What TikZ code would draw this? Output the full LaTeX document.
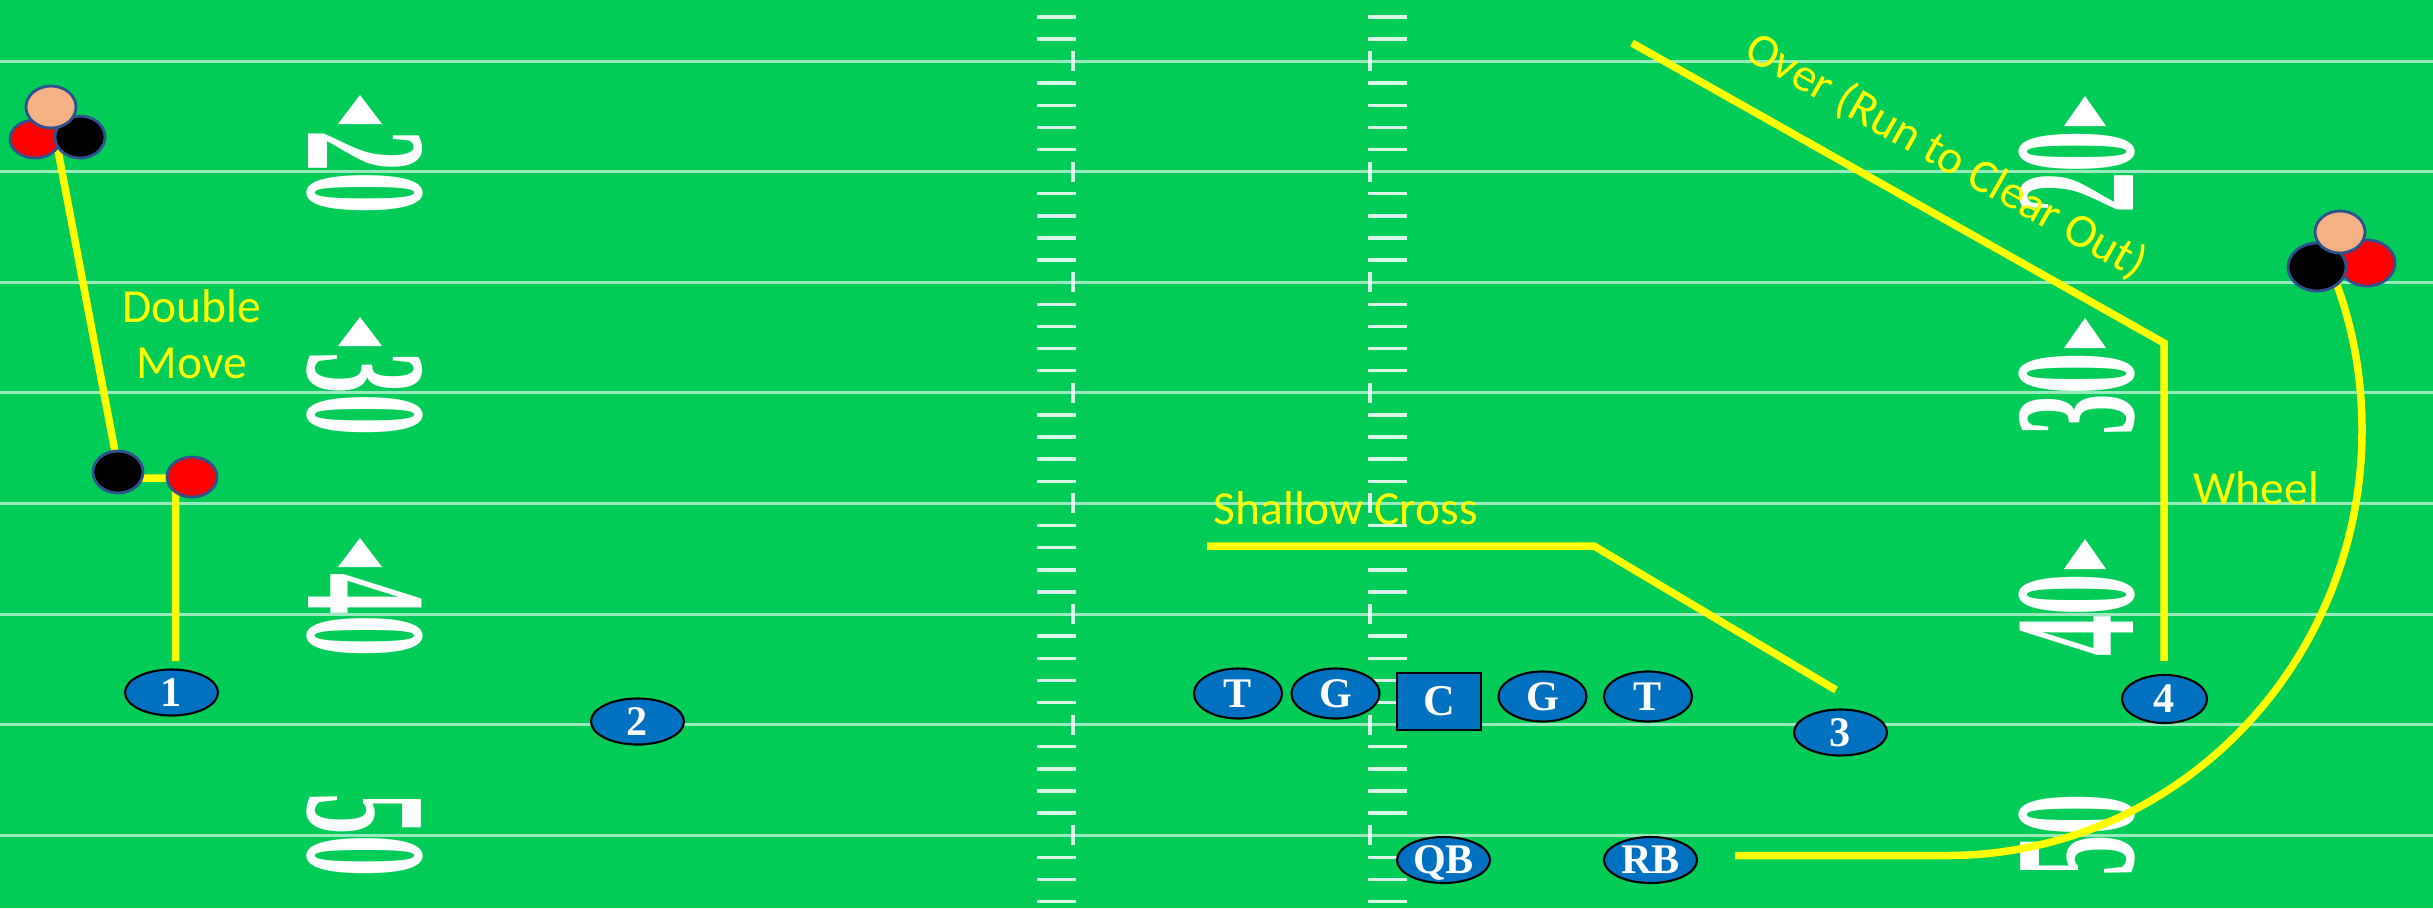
\documentclass[tikz,border=0pt]{standalone}
\usepackage{fontspec}
\setmainfont{Liberation Serif}
\newfontfamily\labelfont{Carlito}
\usetikzlibrary{shapes.geometric}
\pgfdeclarelayer{fieldlayer}
\pgfdeclarelayer{routelayer}
\pgfsetlayers{fieldlayer,routelayer,main}
\definecolor{fieldgreen}{RGB}{2,204,88}
\definecolor{pblue}{RGB}{0,112,192}
\definecolor{trioedge}{RGB}{47,82,143}
\definecolor{peach}{RGB}{244,177,131}
\definecolor{dred}{RGB}{255,0,0}
\definecolor{routey}{RGB}{255,255,0}
\tikzset{
  yardline/.style={draw=white, opacity=0.6, line width=0.03cm},
  hashmark/.style={draw=white, opacity=0.85, line width=0.035cm},
  tickmark/.style={draw=white, opacity=0.85, line width=0.035cm},
  fieldnum/.style={text=white, inner sep=0pt, font=\fontsize{49}{49}\selectfont\bfseries},
  arrowtri/.style={fill=white},
  routeline/.style={draw=routey, line width=0.075cm},
  lbl/.style={text=routey, inner sep=0pt, font=\labelfont\fontsize{13.5}{16}\selectfont},
  player/.style={ellipse, draw=black, line width=0.6pt, fill=pblue, text=white,
    font=\fontsize{12}{12}\selectfont\bfseries, inner sep=0pt, text height=7.9pt, text depth=0pt,
    minimum width=0.93cm, minimum height=0.46cm},
  lineman/.style={player, minimum width=0.88cm, minimum height=0.5cm},
  centerbox/.style={rectangle, draw=black, line width=0.6pt, fill=pblue, text=white,
    font=\fontsize{12.5}{12.5}\selectfont\bfseries, inner sep=0pt, text height=8.2pt, text depth=0pt,
    minimum width=0.84cm, minimum height=0.57cm},
  defender/.style={ellipse, draw=trioedge, line width=0.8pt, inner sep=0pt}
}
\begin{document}
\begin{tikzpicture}[x=0.01cm, y=-0.01cm]
\useasboundingbox (0,0) rectangle (2433,908);
\begin{pgfonlayer}{fieldlayer}
\fill[fieldgreen] (0,0) rectangle (2433,908);
\foreach \k in {0,...,7}{
  \draw[yardline] (0,{61+110.6*\k}) -- (2433,{61+110.6*\k});
  \draw[tickmark] (1073,{61+110.6*\k-10}) -- (1073,{61+110.6*\k+10});
  \draw[tickmark] (1370,{61+110.6*\k-10}) -- (1370,{61+110.6*\k+10});
}
\foreach \j in {-2,...,38}{
  \pgfmathtruncatemacro\rr{mod(\j+10,5)}
  \ifnum\rr>0
    \draw[hashmark] (1037,{61+22.12*\j}) -- (1076,{61+22.12*\j});
    \draw[hashmark] (1368,{61+22.12*\j}) -- (1407,{61+22.12*\j});
  \fi
}
% left numbers
\node[fieldnum, rotate=-90] (l20) at (365,172) {\scalebox{0.48}[1]{20}};
\node[fieldnum, rotate=-90] (l30) at (365,394) {\scalebox{0.48}[1]{30}};
\node[fieldnum, rotate=-90] (l40) at (365,615) {\scalebox{0.48}[1]{40}};
\node[fieldnum, rotate=-90] (l50) at (365,835) {\scalebox{0.48}[1]{50}};
% right numbers
\node[fieldnum, rotate=90] (r20) at (2077,172) {\scalebox{0.48}[1]{20}};
\node[fieldnum, rotate=90] (r30) at (2077,394) {\scalebox{0.48}[1]{30}};
\node[fieldnum, rotate=90] (r40) at (2077,615) {\scalebox{0.48}[1]{40}};
\node[fieldnum, rotate=90] (r50) at (2077,835) {\scalebox{0.48}[1]{50}};
% arrows
\foreach \c in {172,394,615}{
  \fill[arrowtri] (360,{\c-77}) -- (382,{\c-48}) -- (338,{\c-48}) -- cycle;
  \fill[arrowtri] (2085,{\c-76}) -- (2106,{\c-46}) -- (2064,{\c-46}) -- cycle;
}
\end{pgfonlayer}

% route coordinates
\coordinate (r1s) at (175.5,661);
\coordinate (r1c) at (175.5,478);
\coordinate (r1d) at (120,478);
\coordinate (r1e) at (56,140);
\coordinate (r3s) at (1836,690);
\coordinate (r3c) at (1594,546);
\coordinate (r3e) at (1207,546);
\coordinate (r4s) at (2164,661);
\coordinate (r4c) at (2164,343);
\coordinate (r4e) at (1632,43);
\coordinate (rbs) at (1735,855.5);
\coordinate (rbc) at (1947,855.5);
\coordinate (rbm) at (2362,430);
\coordinate (rbe) at (2337,285);

\begin{pgfonlayer}{routelayer}
\draw[routeline] (r1s) -- (r1c) -- (r1d) -- (r1e);
\draw[routeline] (r3s) -- (r3c) -- (r3e);
\draw[routeline] (r4s) -- (r4c) -- (r4e);
\draw[routeline] (rbs) -- (rbc) .. controls (2176,855.5) and (2362,665) .. (rbm)
   .. controls (2362,380) and (2354,332) .. (rbe);
\end{pgfonlayer}

% labels
\node[lbl, anchor=base] (dbl) at (192,322) {Double};
\node[lbl, anchor=base] (mov) at (192,378) {Move};
\node[lbl, anchor=base west] (shc) at (1213,524) {Shallow Cross};
\node[lbl, anchor=base west] (whl) at (2193,504) {Wheel};
\node[lbl, anchor=base west, rotate=-29.5] (ovr) at (1742,57) {Over (Run to Clear Out)};

% defenders top left
\node[defender, fill=dred, minimum width=0.5cm, minimum height=0.38cm] (tlr) at (35,139) {};
\node[defender, fill=black, minimum width=0.5cm, minimum height=0.42cm] (tlb) at (80,137) {};
\node[defender, fill=peach, minimum width=0.5cm, minimum height=0.42cm] (tlp) at (51,107) {};
% double move pair
\node[defender, fill=black, minimum width=0.5cm, minimum height=0.42cm] (dmb) at (118,472) {};
\node[defender, fill=dred, minimum width=0.5cm, minimum height=0.40cm] (dmr) at (192,477) {};
% defenders top right
\node[defender, fill=dred, minimum width=0.56cm, minimum height=0.46cm] (trr) at (2367,263) {};
\node[defender, fill=black, minimum width=0.58cm, minimum height=0.48cm] (trb) at (2317,267) {};
\node[defender, fill=peach, minimum width=0.5cm, minimum height=0.42cm] (trp) at (2340,232) {};

% offense
\node[player] (n1) at (171.5,692.5) {1};
\node[player] (n2) at (637.5,721.5) {2};
\node[player] (n3) at (1840.5,732.5) {3};
\node[player, minimum width=0.85cm, minimum height=0.48cm] (n4) at (2164.5,699) {4};
\node[lineman] (t1) at (1238,693.5) {T};
\node[lineman] (g1) at (1335.5,693.5) {G};
\node[centerbox] (cc) at (1439,701.5) {C};
\node[lineman] (g2) at (1542.5,696.5) {G};
\node[lineman] (t2) at (1648,696.5) {T};
\node[player] (qb) at (1443.5,860) {QB};
\node[player] (rb) at (1650.5,860) {RB};
\end{tikzpicture}
\end{document}
